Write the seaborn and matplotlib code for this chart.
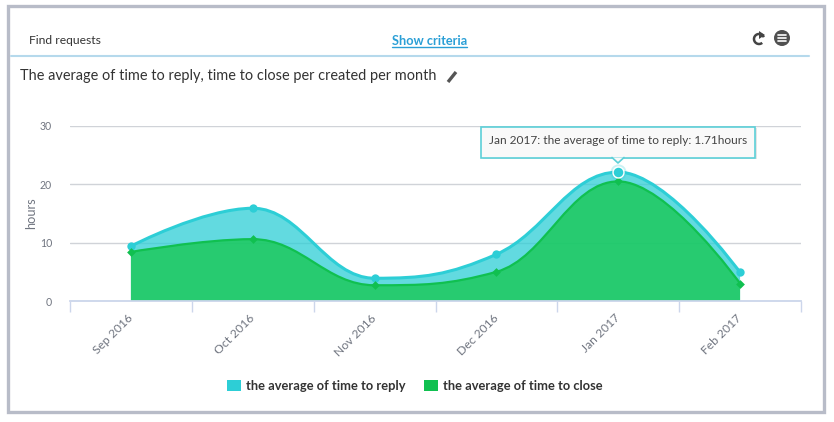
import numpy as np
import pandas as pd
import seaborn as sns
import matplotlib.pyplot as plt
from matplotlib.path import Path
from matplotlib.patches import PathPatch, Rectangle, Circle, Polygon, Arc

months = ['Sep 2016', 'Oct 2016', 'Nov 2016', 'Dec 2016', 'Jan 2017', 'Feb 2017']
time_to_reply = [9.4, 15.9, 3.9, 8.0, 22.1, 4.9]
time_to_close = [8.4, 10.6, 2.7, 5.0, 20.5, 3.0]
y_ticks = [0, 10, 20, 30]

REPLY = '#2dced6'
CLOSE = '#10c050'
CLOSE_FILL = '#14c74b'
GREY = '#707580'

sns.set_theme(style='white')
plt.rcParams['font.family'] = ['Lato', 'DejaVu Sans']

df = pd.DataFrame({'month': months, 'reply': time_to_reply, 'close': time_to_close})


def spline_path(xs, ys, smoothing=1.5):
    # same control point rule as a highcharts spline
    n = len(xs)
    left = [(xs[i], ys[i]) for i in range(n)]
    right = [(xs[i], ys[i]) for i in range(n)]
    den = smoothing + 1
    for i in range(1, n - 1):
        x, y = xs[i], ys[i]
        lx, ly = (smoothing * x + xs[i - 1]) / den, (smoothing * y + ys[i - 1]) / den
        rx, ry = (smoothing * x + xs[i + 1]) / den, (smoothing * y + ys[i + 1]) / den
        corr = (ry - ly) * (rx - x) / (rx - lx) + y - ry
        ly += corr
        ry += corr
        if ly > y and ly > ys[i - 1]:
            ly = max(ys[i - 1], y)
            ry = 2 * y - ly
        elif ly < y and ly < ys[i - 1]:
            ly = min(ys[i - 1], y)
            ry = 2 * y - ly
        if ry > y and ry > ys[i + 1]:
            ry = max(ys[i + 1], y)
            ly = 2 * y - ry
        elif ry < y and ry < ys[i + 1]:
            ry = min(ys[i + 1], y)
            ly = 2 * y - ry
        left[i] = (lx, ly)
        right[i] = (rx, ry)
    verts = [(xs[0], ys[0])]
    codes = [Path.MOVETO]
    for i in range(1, n):
        verts += [right[i - 1], left[i], (xs[i], ys[i])]
        codes += [Path.CURVE4] * 3
    return verts, codes


def draw_area(ax, values, fill, color, lw):
    xs = list(range(len(values)))
    verts, codes = spline_path(xs, values)
    fill_v = verts + [(xs[-1], 0), (xs[0], 0), (xs[0], values[0])]
    fill_c = codes + [Path.LINETO, Path.LINETO, Path.CLOSEPOLY]
    ax.add_patch(PathPatch(Path(fill_v, fill_c), fc=fill, ec='none', alpha=0.75, zorder=2))
    ax.add_patch(PathPatch(Path(verts, codes), fc='none', ec=color, lw=lw, zorder=3))


W, H = 834, 422
fig = plt.figure(figsize=(W / 100, H / 100), dpi=100, facecolor='white')
ax = fig.add_axes([70 / W, (H - 301) / H, 731 / W, 175 / H])

draw_area(ax, time_to_reply, REPLY, REPLY, 2.2)
draw_area(ax, time_to_close, CLOSE_FILL, CLOSE, 1.6)

# hovered point halo goes under the markers
jan = months.index('Jan 2017')
ax.scatter([jan], [time_to_reply[jan]], s=135, color=REPLY, alpha=0.25, linewidth=0, zorder=3.5, clip_on=False)

sns.scatterplot(data=df, x='month', y='reply', color=REPLY, s=36, linewidth=0, ax=ax, zorder=4, clip_on=False)
sns.scatterplot(data=df, x='month', y='close', color=CLOSE, marker='D', s=20, linewidth=0, ax=ax, zorder=4, clip_on=False)
ax.scatter([jan], [time_to_reply[jan]], s=62, color=REPLY, edgecolor='white', linewidth=1, zorder=6, clip_on=False)

ax.set_xlim(-0.5, len(months) - 0.5)
ax.set_ylim(0, 30)
ax.set_yticks(y_ticks)
ax.set_xticks(range(len(months)))
ax.set_xticklabels(months, rotation=45, ha='right', va='center', rotation_mode='anchor', fontsize=8.7, color=GREY)
ax.set_xticks(np.arange(-0.5, len(months)), minor=True)
ax.tick_params(axis='x', which='major', length=0, pad=11)
ax.tick_params(axis='x', which='minor', bottom=True, length=8, width=1, color='#ccd6eb')
ax.tick_params(axis='y', length=0, pad=13, labelsize=7.6, labelcolor=GREY)
ax.grid(axis='y', color='#d0d3d8', lw=1)
ax.set_axisbelow(True)
sns.despine(ax=ax, left=True)
ax.spines['bottom'].set_color('#ccd6eb')
ax.spines['bottom'].set_linewidth(1.3)
ax.set_xlabel('')
ax.set_ylabel('hours', fontsize=9.2, color=GREY, labelpad=2)
ax.patch.set_alpha(0)

# page furniture, in pixels
ov = fig.add_axes([0, 0, 1, 1], zorder=10)
ov.set_xlim(0, W)
ov.set_ylim(H, 0)
ov.axis('off')
ov.patch.set_alpha(0)

ov.add_patch(Rectangle((8.5, 6), 816, 406, fc='none', ec='#b8bcc8', lw=2.4))
ov.plot([11, 809], [55.5, 55.5], color='#b5d9ec', lw=1.5)
ov.text(29, 40, 'Find requests', fontsize=8.7, color='#333333', va='center')
ov.text(429.5, 41, 'Show criteria', fontsize=9.15, color='#2a9fd6', weight='bold', va='center', ha='center')
ov.plot([392, 467], [47, 47], color='#2a9fd6', lw=1)
ov.text(20, 76, 'The average of time to reply, time to close per created per month',
        fontsize=10.45, color='#333333', va='center')

# pencil
ov.plot([448, 456], [82, 72], color='#555555', lw=2.4, solid_capstyle='butt')
# reload and menu icons
ov.add_patch(Arc((759, 39), 10, 10, theta1=-310, theta2=-20, color='#444444', lw=1.8))
ov.add_patch(Polygon([[759, 31], [765, 35], [759, 39]], fc='#444444', ec='none'))
ov.add_patch(Circle((782, 38), 8, fc='#505050', ec='none'))
for yy in [35, 38, 41]:
    ov.plot([778, 786], [yy, yy], color='white', lw=1.2)

# tooltip
ov.add_patch(Rectangle((483, 128), 274, 31, fc='#999999', ec='none', alpha=0.25))
ov.add_patch(Rectangle((481.5, 126.5), 274, 31, fc='#f9f9f9', ec='#5cd0d8', lw=1.2))
ov.add_patch(Polygon([[612, 157.5], [618, 163], [624, 157.5]], fc='#f9f9f9', ec='none'))
ov.plot([612, 618, 624], [157.5, 163, 157.5], color='#5cd0d8', lw=1.2)
ov.text(618, 141, 'Jan 2017: the average of time to reply: 1.71hours', fontsize=8.6,
        color='#444444', ha='center', va='center')

# legend
ov.add_patch(Rectangle((227, 380), 14, 11, fc=REPLY, ec='none'))
ov.text(246, 386, 'the average of time to reply', fontsize=9.25, weight='bold', color='#333333', va='center')
ov.add_patch(Rectangle((424, 380), 14, 11, fc=CLOSE, ec='none'))
ov.text(443, 386, 'the average of time to close', fontsize=9.25, weight='bold', color='#333333', va='center')

fig.savefig('out.png', dpi=100)
